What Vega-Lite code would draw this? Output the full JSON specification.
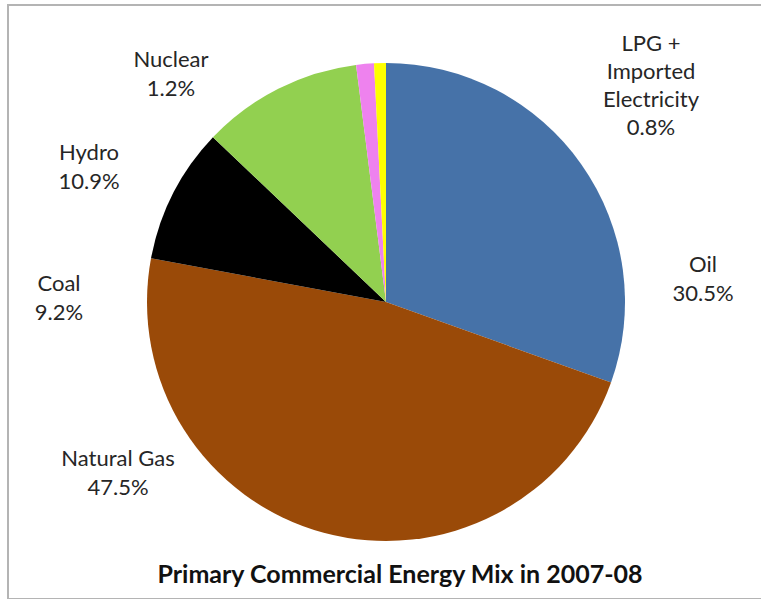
{
  "$schema": "https://vega.github.io/schema/vega-lite/v6.json",
  "autosize": {"type": "none"},
  "padding": {"left": 8, "top": 5, "right": 0, "bottom": 0},
  "width": 756,
  "height": 594,
  "background": "white",
  "view": {"stroke": "#b4b4b4", "strokeWidth": 2},
  "title": {
    "text": "Primary Commercial Energy Mix in 2007-08",
    "orient": "bottom",
    "anchor": "middle",
    "offset": -36,
    "dx": 14,
    "font": "Lato",
    "fontSize": 25,
    "fontWeight": "bold",
    "color": "#111111"
  },
  "data": {
    "values": [
      {"category": "Oil", "value": 30.5, "order": 1, "label": "Oil\n30.5%"},
      {"category": "Natural Gas", "value": 47.5, "order": 2, "label": "Natural Gas\n47.5%"},
      {"category": "Coal", "value": 9.2, "order": 3, "label": "Coal\n9.2%"},
      {"category": "Hydro", "value": 10.9, "order": 4, "label": "Hydro\n10.9%"},
      {"category": "Nuclear", "value": 1.2, "order": 5, "label": "Nuclear\n1.2%"},
      {"category": "LPG + Imported Electricity", "value": 0.8, "order": 6, "label": "LPG +\nImported\nElectricity\n0.8%"}
    ]
  },
  "layer": [
    {
      "mark": {"type": "arc", "outerRadius": 239},
      "encoding": {
        "theta": {"field": "value", "type": "quantitative", "stack": true},
        "order": {"field": "order", "type": "quantitative"},
        "color": {
          "field": "category",
          "type": "nominal",
          "legend": null,
          "scale": {
            "domain": ["Oil", "Natural Gas", "Coal", "Hydro", "Nuclear", "LPG + Imported Electricity"],
            "range": ["#4672A8", "#9A4A08", "#000000", "#92D050", "#EE82EE", "#FFFF00"]
          }
        }
      }
    },
    {
      "transform": [{"filter": "datum.category === 'Oil'"}],
      "mark": {"type": "text", "lineBreak": "\n", "font": "Lato", "fontSize": 22, "lineHeight": 29, "align": "center", "baseline": "middle", "color": "#262626", "dx": 317, "dy": -37},
      "encoding": {"text": {"field": "label", "type": "nominal"}}
    },
    {
      "transform": [{"filter": "datum.category === 'Natural Gas'"}],
      "mark": {"type": "text", "lineBreak": "\n", "font": "Lato", "fontSize": 22, "lineHeight": 29, "align": "center", "baseline": "middle", "color": "#262626", "dx": -268, "dy": 157},
      "encoding": {"text": {"field": "label", "type": "nominal"}}
    },
    {
      "transform": [{"filter": "datum.category === 'Coal'"}],
      "mark": {"type": "text", "lineBreak": "\n", "font": "Lato", "fontSize": 22, "lineHeight": 29, "align": "center", "baseline": "middle", "color": "#262626", "dx": -327, "dy": -18},
      "encoding": {"text": {"field": "label", "type": "nominal"}}
    },
    {
      "transform": [{"filter": "datum.category === 'Hydro'"}],
      "mark": {"type": "text", "lineBreak": "\n", "font": "Lato", "fontSize": 22, "lineHeight": 29, "align": "center", "baseline": "middle", "color": "#262626", "dx": -297, "dy": -149},
      "encoding": {"text": {"field": "label", "type": "nominal"}}
    },
    {
      "transform": [{"filter": "datum.category === 'Nuclear'"}],
      "mark": {"type": "text", "lineBreak": "\n", "font": "Lato", "fontSize": 22, "lineHeight": 29, "align": "center", "baseline": "middle", "color": "#262626", "dx": -215, "dy": -242},
      "encoding": {"text": {"field": "label", "type": "nominal"}}
    },
    {
      "transform": [{"filter": "datum.category === 'LPG + Imported Electricity'"}],
      "mark": {"type": "text", "lineBreak": "\n", "font": "Lato", "fontSize": 22, "lineHeight": 28, "align": "center", "baseline": "middle", "color": "#262626", "dx": 265, "dy": -258},
      "encoding": {"text": {"field": "label", "type": "nominal"}}
    }
  ]
}
